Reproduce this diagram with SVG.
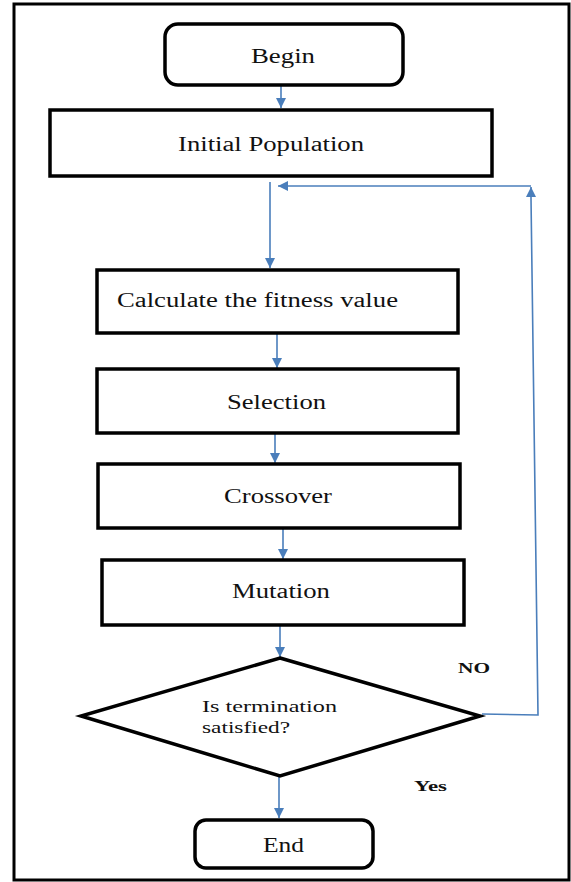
<svg xmlns="http://www.w3.org/2000/svg" width="571" height="882" viewBox="0 0 571 882">
<style>
.box{fill:#fff;stroke:#000;stroke-width:3.5}
.t{font-family:"Liberation Serif","Times New Roman",serif;font-size:20px;fill:#111}
.lbl{font-family:"Liberation Serif","Times New Roman",serif;font-size:15px;font-weight:bold;fill:#111}
.c{fill:none;stroke:#4a7ebb;stroke-width:1.6}
</style>
<defs>
<marker id="ah" viewBox="0 0 10 10" refX="10" refY="5" markerWidth="10" markerHeight="10" markerUnits="userSpaceOnUse" orient="auto">
<path d="M0,0 L10,5 L0,10 Z" fill="#4a7ebb"/>
</marker>
</defs>
<rect x="14" y="4" width="555" height="876" fill="#fff" stroke="#000" stroke-width="3"/>
<g id="connectors">
<line class="c" x1="281" y1="86" x2="281" y2="108" marker-end="url(#ah)"/>
<line class="c" x1="270" y1="182" x2="270" y2="268" marker-end="url(#ah)"/>
<line class="c" x1="277" y1="334" x2="277" y2="368" marker-end="url(#ah)"/>
<line class="c" x1="275" y1="434" x2="275" y2="463" marker-end="url(#ah)"/>
<line class="c" x1="283" y1="529" x2="283" y2="559" marker-end="url(#ah)"/>
<line class="c" x1="280" y1="626" x2="280" y2="657" marker-end="url(#ah)"/>
<line class="c" x1="279" y1="777" x2="279" y2="818" marker-end="url(#ah)"/>
<polyline class="c" points="482,714 538,715 531,198"/>
<line class="c" x1="531" y1="198" x2="531" y2="187" marker-end="url(#ah)"/>
<line class="c" x1="531" y1="186" x2="278" y2="186" marker-end="url(#ah)"/>
</g>
<g id="begin">
<rect class="box" x="165" y="24" width="238" height="61" rx="13"/>
<text class="t" x="251" y="63" textLength="64" lengthAdjust="spacingAndGlyphs">Begin</text>
</g>
<g id="initial">
<rect class="box" x="50" y="110" width="442" height="66"/>
<text class="t" x="178" y="151" textLength="186" lengthAdjust="spacingAndGlyphs">Initial Population</text>
</g>
<g id="fitness">
<rect class="box" x="97" y="270" width="361" height="63"/>
<text class="t" x="117" y="307" textLength="281" lengthAdjust="spacingAndGlyphs">Calculate the fitness value</text>
</g>
<g id="selection">
<rect class="box" x="97" y="369" width="361" height="64"/>
<text class="t" x="227" y="409" textLength="99" lengthAdjust="spacingAndGlyphs">Selection</text>
</g>
<g id="crossover">
<rect class="box" x="98" y="464" width="362" height="64"/>
<text class="t" x="224" y="503" textLength="108" lengthAdjust="spacingAndGlyphs">Crossover</text>
</g>
<g id="mutation">
<rect class="box" x="102" y="560" width="362" height="65"/>
<text class="t" x="232" y="598" textLength="98" lengthAdjust="spacingAndGlyphs">Mutation</text>
</g>
<g id="decision">
<polygon class="box" points="280,658 480,716 280,776 81,716"/>
<text class="t" x="202" y="712" font-size="17" textLength="135" lengthAdjust="spacingAndGlyphs" style="font-size:17px">Is termination</text>
<text class="t" x="202" y="733" textLength="88" lengthAdjust="spacingAndGlyphs" style="font-size:17px">satisfied?</text>
</g>
<g id="end">
<rect class="box" x="195" y="820" width="178" height="48" rx="11"/>
<text class="t" x="263" y="852" textLength="41" lengthAdjust="spacingAndGlyphs">End</text>
</g>
<g id="labels">
<text class="lbl" x="458" y="673" textLength="32" lengthAdjust="spacingAndGlyphs">NO</text>
<text class="lbl" x="414" y="791" textLength="33" lengthAdjust="spacingAndGlyphs">Yes</text>
</g>
</svg>
